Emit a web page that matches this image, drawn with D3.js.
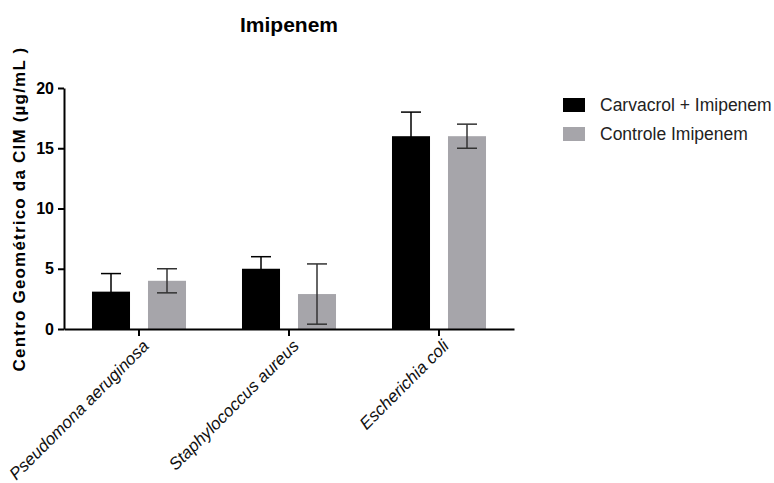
<!DOCTYPE html>
<html><head><meta charset="utf-8">
<script src="https://cdn.jsdelivr.net/npm/d3@7"></script>
<style>body{margin:0;background:#fff}svg{display:block}text{font-family:"Liberation Sans",Arial,sans-serif}</style>
</head><body>
<svg id="c" width="774" height="483"></svg>
<script>
const categories = ["Pseudomona aeruginosa", "Staphylococcus aureus", "Escherichia coli"];
const seriesNames = ["Carvacrol + Imipenem", "Controle Imipenem"];
const carvacrolValues = [3.1, 5, 16];
const carvacrolErrors = [1.5, 1, 2];
const controleValues = [4, 2.9, 16];
const controleErrors = [1, 2.5, 1];
const yTicks = [0, 5, 10, 15, 20];
const colors = ["#000000", "#a6a5aa"];
const errColors = ["#000000", "#333333"];

const svg = d3.select("#c");
const x = d3.scaleBand().domain(categories).range([64, 514]).paddingInner(0).paddingOuter(0);
const y = d3.scaleLinear().domain([0, 20]).range([329, 88]);
const sub = d3.scaleBand().domain(seriesNames).range([-56, 56]).paddingInner(0.321).paddingOuter(0.1605);

const series = [
  {name: seriesNames[0], values: carvacrolValues, errors: carvacrolErrors, color: colors[0], ec: errColors[0]},
  {name: seriesNames[1], values: controleValues, errors: controleErrors, color: colors[1], ec: errColors[1]}
];

// title
svg.append("text").attr("x", 289).attr("y", 32).attr("text-anchor", "middle")
  .style("font-size", "21px").style("font-weight", "bold").text("Imipenem");

// bars
series.forEach(s => {
  const g = svg.append("g");
  categories.forEach((c, i) => {
    const cx = x(c) + x.bandwidth() / 2;
    const bx = cx + sub(s.name);
    g.append("rect").attr("x", bx).attr("y", y(s.values[i]))
      .attr("width", sub.bandwidth()).attr("height", y(0) - y(s.values[i]))
      .attr("fill", s.color);
    const ex = bx + sub.bandwidth() / 2;
    const top = y(s.values[i] + s.errors[i]);
    const bot = y(Math.max(0, s.values[i] - s.errors[i]));
    g.append("line").attr("x1", ex).attr("x2", ex).attr("y1", top).attr("y2", bot)
      .attr("stroke", s.ec).attr("stroke-width", 1.5);
    [top, bot].forEach(yy => g.append("line").attr("x1", ex - 10).attr("x2", ex + 10)
      .attr("y1", yy).attr("y2", yy).attr("stroke", s.ec).attr("stroke-width", 1.5));
  });
});

// y axis
const yAxis = svg.append("g").attr("transform", "translate(64,0)")
  .call(d3.axisLeft(y).tickValues(yTicks).tickSize(6).tickSizeOuter(0).tickPadding(4));
yAxis.select(".domain").attr("stroke", "#000").attr("stroke-width", 2);
yAxis.selectAll(".tick line").attr("stroke", "#000").attr("stroke-width", 2);
yAxis.selectAll(".tick text").style("font-size", "16px").style("font-weight", "bold")
  .attr("fill", "#000").attr("font-family", null);

// x axis
const xAxis = svg.append("g").attr("transform", "translate(0,329)")
  .call(d3.axisBottom(x).tickSize(7).tickSizeOuter(0));
xAxis.select(".domain").attr("stroke", "#000").attr("stroke-width", 2);
xAxis.selectAll(".tick line").attr("stroke", "#000").attr("stroke-width", 2);
xAxis.selectAll(".tick text").attr("font-family", null)
  .style("font-size", "17px").style("font-style", "italic").attr("fill", "#111")
  .attr("text-anchor", "end").attr("dy", null).attr("y", null)
  .attr("transform", "translate(11,18) rotate(-45)");

// y label
svg.append("text").attr("transform", "translate(25,209) rotate(-90)")
  .attr("text-anchor", "middle").style("font-size", "17px").style("font-weight", "bold")
  .style("letter-spacing", "1.2px").text("Centro Geométrico da CIM (µg/mL )");

// legend
const leg = svg.append("g");
series.forEach((s, i) => {
  leg.append("rect").attr("x", 563).attr("y", 98 + i * 29).attr("width", 22).attr("height", 14).attr("fill", s.color);
  leg.append("text").attr("x", 600).attr("y", 111 + i * 29).style("font-size", "17.5px")
    .attr("fill", "#222").text(s.name);
});
</script>
</body></html>
